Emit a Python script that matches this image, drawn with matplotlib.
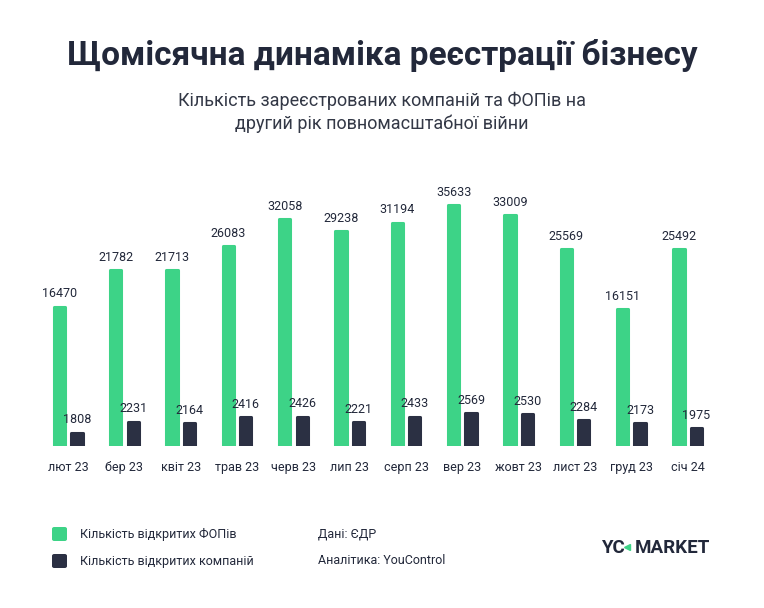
import matplotlib
matplotlib.use('Agg')
import matplotlib.pyplot as plt
import numpy as np

plt.rcParams['font.family'] = ['Roboto', 'DejaVu Sans']

months = ['лют 23', 'бер 23', 'квіт 23', 'трав 23', 'черв 23', 'лип 23',
          'серп 23', 'вер 23', 'жовт 23', 'лист 23', 'груд 23', 'січ 24']
fop = [16470, 21782, 21713, 26083, 32058, 29238, 31194, 35633, 33009, 25569, 16151, 25492]
companies = [1808, 2231, 2164, 2416, 2426, 2221, 2433, 2569, 2530, 2284, 2173, 1975]

GREEN = '#3dd387'
DARK = '#2b3043'
TEXT = '#22283a'

fig = plt.figure(figsize=(7.64, 6.08), dpi=100)
fig.patch.set_facecolor('white')

# plot area in pixels: baseline at y=446 (from top), top at 180
ax = fig.add_axes([34.4 / 764, 162 / 608, 687 / 764, 266 / 608])
ax2 = ax.twinx()

# the two series use separate scales (green one is compressed like a log axis)
ax.set_yscale('log')
lo1, hi1 = 5709, 43160
lo2, hi2 = 1291, 11593
ax.set_ylim(lo1, hi1)
ax2.set_ylim(lo2, hi2)
ax.set_xlim(-0.6, 11.6)

x = np.arange(len(months))
off = 0.155
w = 0.2
fop_arr = np.array(fop)
comp_arr = np.array(companies)
ax.bar(x - off, fop_arr - lo1, bottom=lo1, width=w, color=GREEN,
       edgecolor=GREEN, linewidth=2.2, joinstyle='round')
ax2.bar(x + off, comp_arr - lo2, bottom=lo2, width=w, color=DARK,
        edgecolor=DARK, linewidth=2.2, joinstyle='round')

for xi, v in zip(x, fop):
    ax.annotate(str(v), xy=(xi - off, v), xytext=(0, 4.5), textcoords='offset points',
                ha='center', va='bottom', fontsize=9, color=TEXT)
for xi, v in zip(x, companies):
    ax2.annotate(str(v), xy=(xi + off, v), xytext=(0, 4.5), textcoords='offset points',
                 ha='center', va='bottom', fontsize=9, color=TEXT)

for a in (ax, ax2):
    for s in a.spines.values():
        s.set_visible(False)
    a.set_yticks([])
    a.set_yticks([], minor=True)
ax.set_xticks(x)
ax.set_xticklabels(months, fontsize=9, color=TEXT)
ax.tick_params(axis='x', length=0, pad=11)

fig.text(0.5, 1 - 56 / 608, 'Щомісячна динаміка реєстрації бізнесу', ha='center', va='center',
         fontsize=24, fontweight='bold', color=TEXT)
fig.text(0.5, 1 - 101 / 608, 'Кількість зареєстрованих компаній та ФОПів на', ha='center',
         va='center', fontsize=13, color='#333846')
fig.text(0.5, 1 - 124 / 608, 'другий рік повномасштабної війни', ha='center',
         va='center', fontsize=13, color='#333846')

# legend
for i, (c, label) in enumerate([(GREEN, 'Кількість відкритих ФОПів'),
                                 (DARK, 'Кількість відкритих компаній')]):
    yc = 1 - (534 + 27 * i) / 608
    fig.patches.append(matplotlib.patches.FancyBboxPatch(
        (52 / 764, yc - 7 / 608), 15 / 764, 14 / 608,
        boxstyle='round,pad=0,rounding_size=0.003', transform=fig.transFigure,
        facecolor=c, edgecolor='none'))
    fig.text(80 / 764, yc, label, ha='left', va='center', fontsize=9, color=TEXT)

fig.text(318 / 764, 1 - 534 / 608, 'Дані: ЄДР', ha='left', va='center', fontsize=9, color=TEXT)
fig.text(318 / 764, 1 - 561 / 608, 'Аналітика: YouControl', ha='left', va='center',
         fontsize=9, color=TEXT)

# logo
fig.text(601 / 764, 1 - 548 / 608, 'YC', ha='left', va='center', fontsize=13.5,
         fontweight='bold', color=TEXT)
fig.text(635 / 764, 1 - 548 / 608, 'MARKET', ha='left', va='center', fontsize=13.5,
         fontweight='bold', color=TEXT)
fig.lines.append(matplotlib.lines.Line2D([627 / 764], [1 - 547 / 608], marker='<',
                                         markersize=4, color=GREEN,
                                         transform=fig.transFigure))

fig.savefig('out.png', dpi=100, facecolor='white')
